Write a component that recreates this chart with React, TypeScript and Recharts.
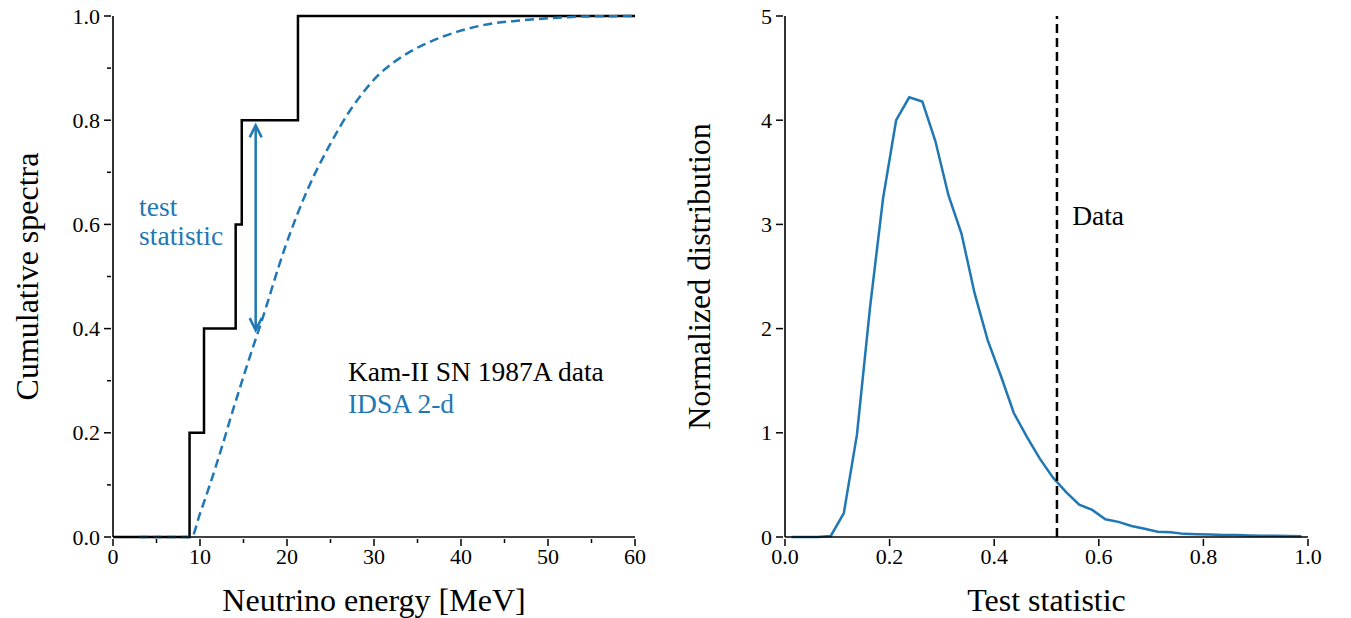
import { LineChart, Line, XAxis, YAxis, ReferenceLine, ReferenceDot, Label } from 'recharts'

const BLUE = '#1f77b4'
const FONT = '"Liberation Serif", "DejaVu Serif", serif'

// Kam-II SN 1987A events, cumulative (MeV)
const kamEnergy = [0, 8.8, 10.46, 14.1, 14.8, 21.26, 60]
const kamCdf = [0, 0.2, 0.4, 0.6, 0.8, 1.0, 1.0]

// IDSA 2-d model cumulative spectrum
const idsaEnergy = [3, 9.0, 10, 12, 14, 16, 17, 19.8, 22.5, 25.0, 27.3, 28.6, 30.4, 32.1, 34.2, 36.5, 39.6, 42.7, 46.5, 50.4, 54.2, 60]
const idsaCdf = [0, 0, 0.045, 0.145, 0.255, 0.36, 0.41, 0.557, 0.672, 0.755, 0.82, 0.85, 0.885, 0.909, 0.932, 0.951, 0.97, 0.983, 0.991, 0.996, 0.999, 1.0]

// test statistic distribution
const tsBins = [
  0.0125, 0.0375, 0.0625, 0.0875, 0.1125, 0.1375, 0.1625, 0.1875, 0.2125, 0.2375,
  0.2625, 0.2875, 0.3125, 0.3375, 0.3625, 0.3875, 0.4125, 0.4375, 0.4625, 0.4875,
  0.5125, 0.5375, 0.5625, 0.5875, 0.6125, 0.6375, 0.6625, 0.6875, 0.7125, 0.7375,
  0.7625, 0.7875, 0.8125, 0.8375, 0.8625, 0.8875, 0.9125, 0.9375, 0.9625, 0.9875,
]
const tsDensity = [
  0, 0, 0, 0.01, 0.23, 0.98, 2.2, 3.25, 4.0, 4.22,
  4.18, 3.8, 3.28, 2.91, 2.34, 1.89, 1.55, 1.19, 0.96, 0.75,
  0.57, 0.43, 0.31, 0.26, 0.17, 0.145, 0.105, 0.08, 0.05, 0.045,
  0.03, 0.026, 0.024, 0.02, 0.018, 0.015, 0.013, 0.011, 0.01, 0.008,
]
const dataTs = 0.52

const energyTicks = [0, 5, 10, 15, 20, 25, 30, 35, 40, 45, 50, 55, 60]
const cdfTicks = [0, 0.1, 0.2, 0.3, 0.4, 0.5, 0.6, 0.7, 0.8, 0.9, 1.0]
const tsTicks = [0, 0.2, 0.4, 0.6, 0.8, 1.0]
const densityTicks = [0, 1, 2, 3, 4, 5]

const kamData = kamEnergy.map((x, i) => ({ x, y: kamCdf[i] }))
const idsaData = idsaEnergy.map((x, i) => ({ x, y: idsaCdf[i] }))
const tsData = tsBins.map((x, i) => ({ x, y: tsDensity[i] }))

function BottomTick({ x, y, major, label }: any) {
  return (
    <g>
      <line x1={x} y1={y} x2={x} y2={y + (major ? 7 : 4)} stroke="#000" strokeWidth={1.5} />
      {major && (
        <text x={x} y={y + 25} textAnchor="middle" fontSize={22} fontFamily={FONT} fill="#000">
          {label}
        </text>
      )}
    </g>
  )
}

function LeftTick({ x, y, major, label }: any) {
  return (
    <g>
      <line x1={x - (major ? 7 : 4)} y1={y} x2={x} y2={y} stroke="#000" strokeWidth={1.5} />
      {major && (
        <text x={x - 11} y={y + 7.5} textAnchor="end" fontSize={22} fontFamily={FONT} fill="#000">
          {label}
        </text>
      )}
    </g>
  )
}

function XTitle({ viewBox, text }: any) {
  return (
    <text x={viewBox.x + viewBox.width / 2} y={viewBox.y + 74} textAnchor="middle" fontSize={32} fontFamily={FONT} fill="#000">
      {text}
    </text>
  )
}

function YTitle({ viewBox, text }: any) {
  const cx = viewBox.x + viewBox.width - 86
  const cy = viewBox.y + viewBox.height / 2
  return (
    <text x={cx} y={cy} transform={`rotate(-90, ${cx}, ${cy})`} textAnchor="middle" dominantBaseline="central" fontSize={32} fontFamily={FONT} fill="#000">
      {text}
    </text>
  )
}

function DoubleArrow({ x1, y1, x2, y2 }: any) {
  const w = 6
  const h = 12
  return (
    <g stroke={BLUE} strokeWidth={2.5} fill="none">
      <line x1={x1} y1={y1} x2={x2} y2={y2} />
      <polyline points={`${x1 - w},${y1 + h} ${x1},${y1} ${x1 + w},${y1 + h}`} />
      <polyline points={`${x2 - w},${y2 - h} ${x2},${y2} ${x2 + w},${y2 - h}`} />
    </g>
  )
}

function Note({ lines, color }: { lines: string[]; color: string }) {
  return (p: any) => (
    <text x={p.cx} y={p.cy} fontSize={27.5} fontFamily={FONT} fill={color}>
      {lines.map((l, i) => (
        <tspan key={i} x={p.cx} dy={i === 0 ? 0 : 29}>
          {l}
        </tspan>
      ))}
    </text>
  )
}

const frame = { stroke: '#000', strokeWidth: 1.6 }

export default function App() {
  return (
    <div style={{ position: 'absolute', left: 0, top: 0, width: 1351, height: 618, background: '#fff', fontFamily: FONT }}>
      <div style={{ position: 'absolute', left: 0, top: 0 }}>
        <LineChart width={660} height={618} margin={{ top: 16, right: 25, bottom: 0, left: 0 }}>
          <XAxis
            dataKey="x"
            type="number"
            domain={[0, 60]}
            ticks={energyTicks}
            interval={0}
            height={81}
            tickSize={0}
            tickLine={false}
            axisLine={frame}
            tick={(p: any) => <BottomTick {...p} major={p.payload.value % 10 === 0} label={String(p.payload.value)} />}
          >
            <Label content={(p: any) => <XTitle {...p} text="Neutrino energy [MeV]" />} />
          </XAxis>
          <YAxis
            type="number"
            domain={[0, 1]}
            ticks={cdfTicks}
            interval={0}
            width={113}
            tickSize={0}
            tickLine={false}
            axisLine={frame}
            tick={(p: any) => (
              <LeftTick {...p} major={Math.round(p.payload.value * 10) % 2 === 0} label={Number(p.payload.value).toFixed(1)} />
            )}
          >
            <Label content={(p: any) => <YTitle {...p} text="Cumulative spectra" />} />
          </YAxis>
          <XAxis xAxisId="top" orientation="top" type="number" domain={[0, 60]} height={0} tick={false} tickLine={false} axisLine={frame} />
          <YAxis yAxisId="right" orientation="right" type="number" domain={[0, 1]} width={0} tick={false} tickLine={false} axisLine={frame} />
          <Line data={kamData} dataKey="y" type="stepAfter" stroke="#000" strokeWidth={2.5} dot={false} isAnimationActive={false} />
          <Line data={idsaData} dataKey="y" type="monotone" stroke={BLUE} strokeWidth={2.5} strokeDasharray="9 5" dot={false} isAnimationActive={false} />
          <ReferenceLine segment={[{ x: 16.4, y: 0.79 }, { x: 16.4, y: 0.397 }]} shape={(p: any) => <DoubleArrow {...p} />} />
          <ReferenceDot x={3.0} y={0.616} shape={Note({ lines: ['test', 'statistic'], color: BLUE })} />
          <ReferenceDot x={27.0} y={0.2994} shape={Note({ lines: ['Kam-II SN 1987A data'], color: '#000' })} />
          <ReferenceDot x={27.0} y={0.238} shape={Note({ lines: ['IDSA 2-d'], color: BLUE })} />
        </LineChart>
      </div>
      <div style={{ position: 'absolute', left: 660, top: 0 }}>
        <LineChart width={691} height={618} margin={{ top: 16, right: 43, bottom: 0, left: 0 }}>
          <XAxis
            dataKey="x"
            type="number"
            domain={[0, 1]}
            ticks={tsTicks}
            interval={0}
            height={81}
            tickSize={0}
            tickLine={false}
            axisLine={frame}
            tick={(p: any) => <BottomTick {...p} major label={Number(p.payload.value).toFixed(1)} />}
          >
            <Label content={(p: any) => <XTitle {...p} text="Test statistic" />} />
          </XAxis>
          <YAxis
            type="number"
            domain={[0, 5]}
            ticks={densityTicks}
            interval={0}
            width={125}
            tickSize={0}
            tickLine={false}
            axisLine={frame}
            tick={(p: any) => <LeftTick {...p} major label={String(p.payload.value)} />}
          >
            <Label content={(p: any) => <YTitle {...p} text="Normalized distribution" />} />
          </YAxis>
          <XAxis xAxisId="top" orientation="top" type="number" domain={[0, 1]} height={0} tick={false} tickLine={false} axisLine={frame} />
          <YAxis yAxisId="right" orientation="right" type="number" domain={[0, 5]} width={0} tick={false} tickLine={false} axisLine={frame} />
          <Line data={tsData} dataKey="y" type="linear" stroke={BLUE} strokeWidth={2.5} dot={false} isAnimationActive={false} />
          <ReferenceLine x={dataTs} stroke="#000" strokeWidth={2.5} strokeDasharray="9 5" />
          <ReferenceDot x={0.549} y={2.99} shape={Note({ lines: ['Data'], color: '#000' })} />
        </LineChart>
      </div>
    </div>
  )
}
